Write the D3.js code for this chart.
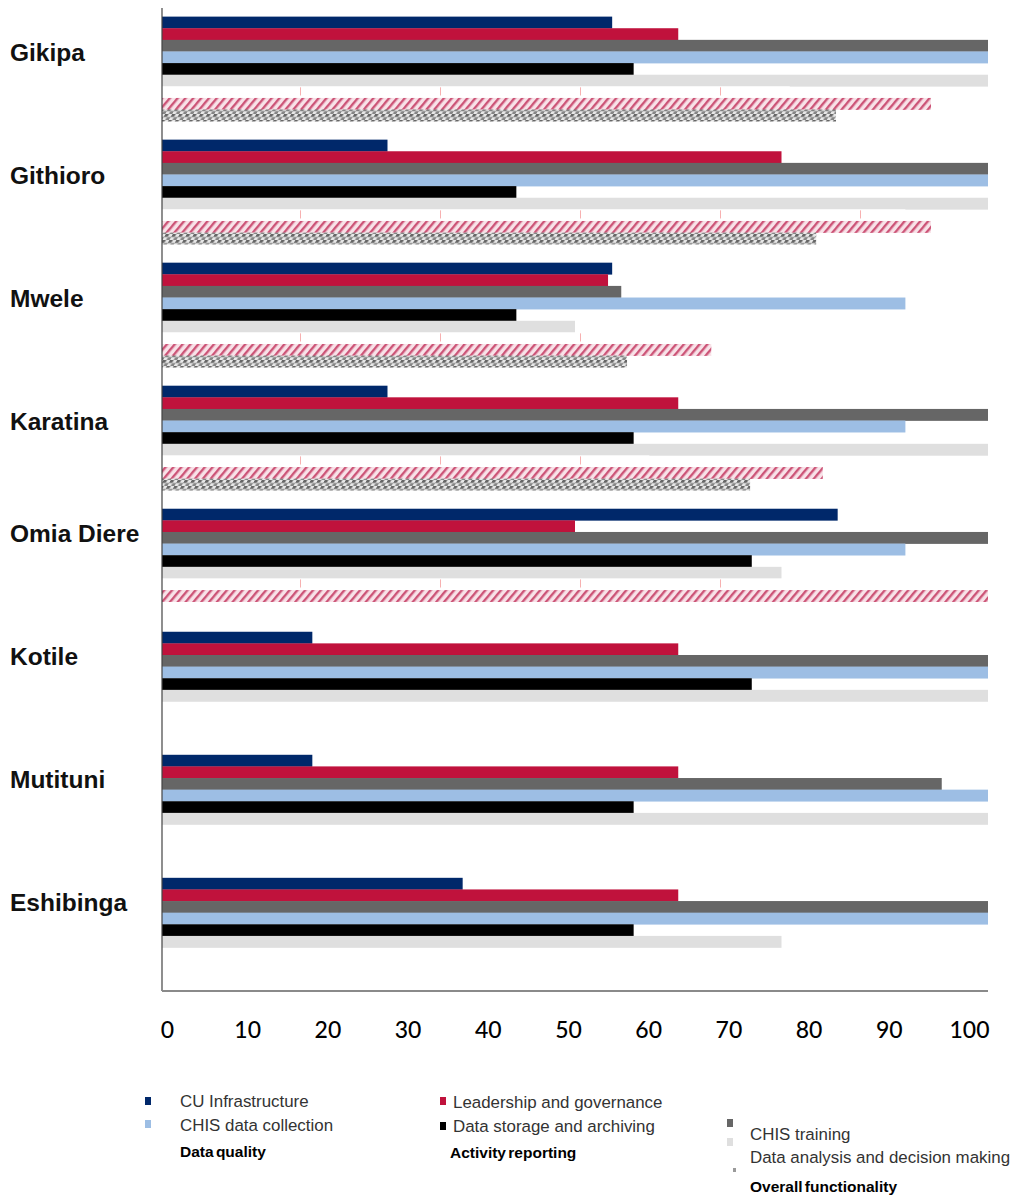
<!DOCTYPE html>
<html><head><meta charset="utf-8">
<script src="https://cdn.jsdelivr.net/npm/d3@7"></script>
<style>body{margin:0;background:#fff}</style>
</head><body>
<svg id="chart" width="1010" height="1196"></svg>
<script>
// ---------- data ----------
const categories = ["Gikipa", "Githioro", "Mwele", "Karatina", "Omia Diere", "Kotile", "Mutituni", "Eshibinga"];
const seriesNames = ["CU Infrastructure", "Leadership and governance", "CHIS training", "CHIS data collection",
  "Data storage and archiving", "Data analysis and decision making", "Data quality", "Activity reporting", "Overall functionality"];
const cuInfrastructure     = [54.5, 27.3, 54.5, 27.3, 81.8, 18.2, 18.2, 36.4];
const leadershipGovernance = [62.5, 75.0, 54.0, 62.5, 50.0, 62.5, 62.5, 62.5];
const chisTraining         = [100, 100, 55.6, 100, 100, 100, 94.4, 100];
const chisDataCollection   = [100, 100, 90.0, 90.0, 90.0, 100, 100, 100];
const dataStorage          = [57.1, 42.9, 42.9, 57.1, 71.4, 71.4, 57.1, 57.1];
const dataAnalysis         = [100, 100, 50.0, 100, 75.0, 100, 100, 75.0];
const dataQuality          = [76, 90, 59, 59, 76, null, null, null];
const activityReporting    = [93.1, 93.1, 66.5, 80.0, 100, null, null, null];
const overallFunctionality = [81.6, 79.2, 56.3, 71.2, null, null, null, null];
const tickValues = [0, 10, 20, 30, 40, 50, 60, 70, 80, 90, 100];

const seriesValues = [cuInfrastructure, leadershipGovernance, chisTraining, chisDataCollection,
  dataStorage, dataAnalysis, dataQuality, activityReporting, overallFunctionality];

// ---------- styles ----------
const solidColors = ["#00286a", "#c0123c", "#666666", "#9dbee4", "#000000", "#dfdfdf"];

const svg = d3.select("#chart");
const defs = svg.append("defs");

// Activity reporting: pink diagonal hatch
const ar = defs.append("pattern").attr("id", "pat-ar").attr("patternUnits", "userSpaceOnUse")
  .attr("width", 6).attr("height", 6).attr("patternTransform", "rotate(40)");
ar.append("rect").attr("width", 6).attr("height", 6).attr("fill", "#f8e2e8");
ar.append("rect").attr("width", 2.4).attr("height", 6).attr("fill", "#cc5477");

// Overall functionality: gray dotted checker
const ov = defs.append("pattern").attr("id", "pat-ov").attr("patternUnits", "userSpaceOnUse")
  .attr("width", 7).attr("height", 6).attr("patternTransform", "skewX(-30)");
ov.append("rect").attr("width", 7).attr("height", 6).attr("fill", "#e8e8e8");
ov.append("rect").attr("width", 3.5).attr("height", 3).attr("fill", "#666666");
ov.append("rect").attr("x", 3.5).attr("y", 3).attr("width", 3.5).attr("height", 3).attr("fill", "#858585");

// ---------- scales ----------
const x = d3.scaleLinear().domain([0, 100]).range([162, 988]);
const xTick = d3.scaleLinear().domain([0, 100]).range([167, 969]);
const y = d3.scaleBand().domain(categories).range([8, 991]).paddingInner(0.15).paddingOuter(0.07);
const ys = d3.scaleBand().domain(seriesNames).range([0, y.bandwidth()]);

// Data quality: sparse faint tick pattern, one per group aligned to its row
categories.forEach((c, i) => {
  const p = defs.append("pattern").attr("id", "pat-dq-" + i).attr("patternUnits", "userSpaceOnUse")
    .attr("x", 160).attr("y", y(c) + ys("Data quality"))
    .attr("width", 140).attr("height", ys.bandwidth());
  p.append("rect").attr("width", 140).attr("height", ys.bandwidth()).attr("fill", "#ffffff");
  p.append("rect").attr("x", 0).attr("y", 1).attr("width", 1).attr("height", ys.bandwidth() * 0.7)
    .attr("fill", "#f7b0b0");
});

function fillFor(si, ci) {
  if (si < 6) return solidColors[si];
  if (si === 6) return "url(#pat-dq-" + ci + ")";
  if (si === 7) return "url(#pat-ar)";
  return "url(#pat-ov)";
}

// ---------- bars ----------
const bars = [];
seriesNames.forEach((s, si) => {
  categories.forEach((c, ci) => {
    const v = seriesValues[si][ci];
    if (v !== null && v !== undefined) bars.push({ s, si, c, ci, v });
  });
});

svg.append("g").selectAll("rect").data(bars).join("rect")
  .attr("x", x(0))
  .attr("y", d => y(d.c) + ys(d.s))
  .attr("width", d => x(d.v) - x(0))
  .attr("height", ys.bandwidth() + 0.3)
  .attr("fill", d => fillFor(d.si, d.ci));

// ---------- axes ----------
svg.append("line").attr("x1", x(0)).attr("x2", x(0)).attr("y1", 8).attr("y2", 991)
  .attr("stroke", "#444").attr("stroke-width", 1.2);
svg.append("line").attr("x1", x(0)).attr("x2", x(100)).attr("y1", 991).attr("y2", 991)
  .attr("stroke", "#8a8a8a").attr("stroke-width", 2);

const ax = svg.append("g").attr("transform", "translate(0,1022)")
  .call(d3.axisBottom(xTick).tickValues(tickValues).tickSize(0).tickPadding(0));
ax.select(".domain").remove();
ax.selectAll("text").attr("font-family", "Lato, 'Liberation Sans', sans-serif")
  .attr("font-size", 23).attr("font-weight", 500).attr("fill", "#000");

// ---------- category labels ----------
svg.append("g").selectAll("text").data(categories).join("text")
  .attr("x", 10)
  .attr("y", (c, i) => y(c) + (i < 4 ? 36 : 25))
  .attr("dominant-baseline", "central")
  .attr("font-family", "'Liberation Sans', Arial, sans-serif")
  .attr("font-weight", "bold").attr("font-size", 24.5).attr("fill", "#111")
  .text(c => c);

// ---------- legend ----------
const legendItems = [
  { name: seriesNames[0], mx: 145, my: 1097, tx: 180, ty: 1101, color: solidColors[0] },
  { name: seriesNames[3], mx: 145, my: 1120, tx: 180, ty: 1125, color: solidColors[3] },
  { name: seriesNames[6], tx: 180, ty: 1151, bold: true },
  { name: seriesNames[1], mx: 440, my: 1097, tx: 453, ty: 1102, color: solidColors[1] },
  { name: seriesNames[4], mx: 440, my: 1122, tx: 453, ty: 1126, color: solidColors[4] },
  { name: seriesNames[7], tx: 450, ty: 1152, bold: true },
  { name: seriesNames[2], mx: 727, my: 1119, tx: 750, ty: 1134, color: solidColors[2] },
  { name: seriesNames[5], mx: 727, my: 1138, tx: 750, ty: 1157, color: solidColors[5] },
  { name: seriesNames[8], mx: 733, my: 1168, tx: 750, ty: 1186, bold: true, tiny: true }
];
const lg = svg.append("g");
legendItems.forEach(d => {
  if (d.color) lg.append("rect").attr("x", d.mx).attr("y", d.my).attr("width", 6).attr("height", 8).attr("fill", d.color);
  if (d.tiny) lg.append("rect").attr("x", d.mx).attr("y", d.my).attr("width", 3).attr("height", 4).attr("fill", "#9a9a9a");
  lg.append("text").attr("x", d.tx).attr("y", d.ty).attr("dominant-baseline", "central")
    .attr("font-family", "'Liberation Sans', Arial, sans-serif")
    .attr("font-size", d.bold ? 15.5 : 16.9)
    .attr("font-weight", d.bold ? "bold" : "normal")
    .attr("word-spacing", d.bold ? -2 : 0)
    .attr("fill", d.bold ? "#000" : "#333")
    .text(d.name);
});
</script>
</body></html>
